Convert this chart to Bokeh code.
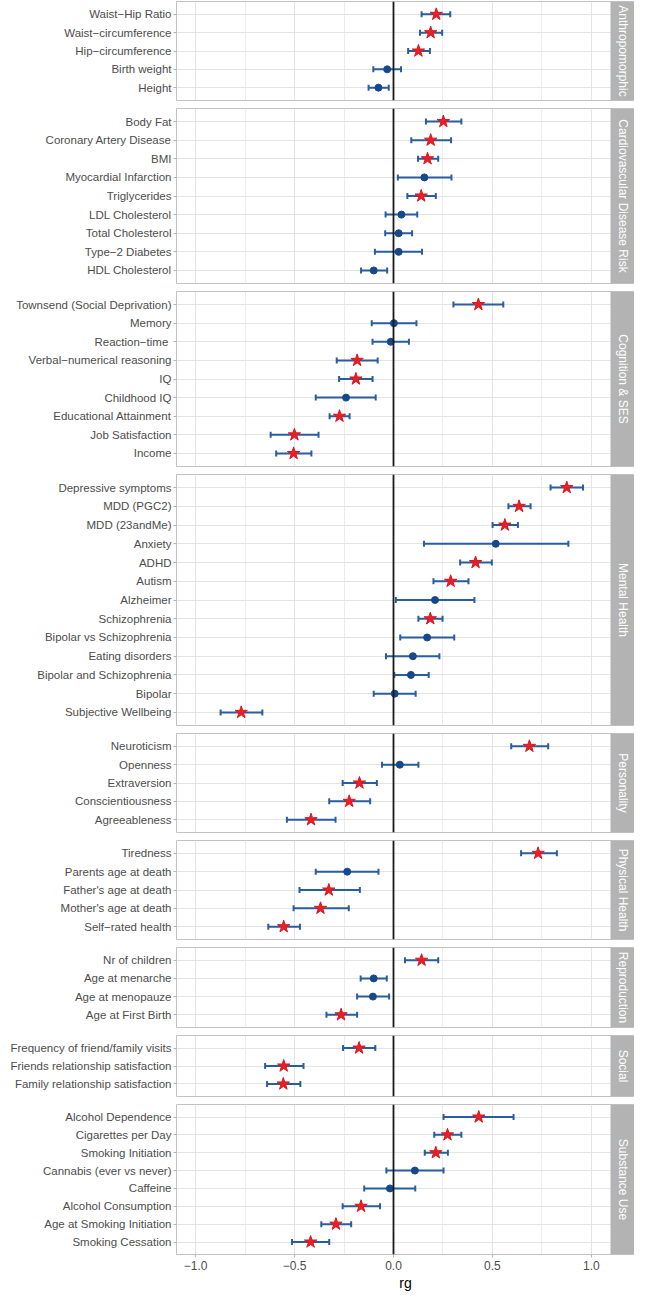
import math
from bokeh.plotting import figure
from bokeh.models import (Range1d, FactorRange, ColumnDataSource, Whisker, TeeHead,
                          Span, BoxAnnotation, Label, FixedTicker)
from bokeh.layouts import column
from bokeh.embed import file_html
from bokeh.resources import INLINE

# ---------------- data ----------------
panel_names = ["Anthropomorphic", "Cardiovascular Disease Risk", "Cognition & SES",
               "Mental Health", "Personality", "Physical Health", "Reproduction",
               "Social", "Substance Use"]

traits = [
    "Waist\u2212Hip Ratio", "Waist\u2212circumference", "Hip\u2212circumference", "Birth weight", "Height",
    "Body Fat", "Coronary Artery Disease", "BMI", "Myocardial Infarction", "Triglycerides",
    "LDL Cholesterol", "Total Cholesterol", "Type\u22122 Diabetes", "HDL Cholesterol",
    "Townsend (Social Deprivation)", "Memory", "Reaction\u2212time ", "Verbal\u2212numerical reasoning",
    "IQ", "Childhood IQ", "Educational Attainment", "Job Satisfaction", "Income",
    "Depressive symptoms", "MDD (PGC2)", "MDD (23andMe)", "Anxiety", "ADHD", "Autism",
    "Alzheimer", "Schizophrenia", "Bipolar vs Schizophrenia", "Eating disorders",
    "Bipolar and Schizophrenia", "Bipolar", "Subjective Wellbeing",
    "Neuroticism", "Openness", "Extraversion", "Conscientiousness", "Agreeableness",
    "Tiredness", "Parents age at death", "Father's age at death", "Mother's age at death",
    "Self\u2212rated health",
    "Nr of children", "Age at menarche", "Age at menopauze", "Age at First Birth",
    "Frequency of friend/family visits", "Friends relationship satisfaction",
    "Family relationship satisfaction",
    "Alcohol Dependence", "Cigarettes per Day", "Smoking Initiation", "Cannabis (ever vs never)",
    "Caffeine", "Alcohol Consumption", "Age at Smoking Initiation", "Smoking Cessation",
]

trait_panel = (["Anthropomorphic"] * 5 + ["Cardiovascular Disease Risk"] * 9 +
               ["Cognition & SES"] * 9 + ["Mental Health"] * 13 + ["Personality"] * 5 +
               ["Physical Health"] * 5 + ["Reproduction"] * 4 + ["Social"] * 3 +
               ["Substance Use"] * 8)

rg = [0.216, 0.188, 0.126, -0.032, -0.076,
      0.252, 0.188, 0.172, 0.156, 0.140, 0.040, 0.026, 0.026, -0.100,
      0.429, 0.002, -0.014, -0.184, -0.190, -0.240, -0.273, -0.501, -0.505,
      0.876, 0.635, 0.563, 0.517, 0.415, 0.289, 0.210, 0.186, 0.170, 0.098, 0.088, 0.006, -0.770,
      0.687, 0.032, -0.172, -0.224, -0.417,
      0.731, -0.234, -0.327, -0.369, -0.555,
      0.142, -0.100, -0.104, -0.265,
      -0.174, -0.555, -0.557,
      0.431, 0.273, 0.214, 0.108, -0.018, -0.164, -0.291, -0.419]

lo = [0.142, 0.134, 0.074, -0.102, -0.126,
      0.164, 0.090, 0.124, 0.022, 0.070, -0.040, -0.042, -0.094, -0.164,
      0.303, -0.110, -0.106, -0.287, -0.275, -0.393, -0.323, -0.621, -0.593,
      0.794, 0.581, 0.501, 0.154, 0.337, 0.202, 0.012, 0.126, 0.034, -0.038, 0.004, -0.100, -0.874,
      0.595, -0.058, -0.257, -0.325, -0.539,
      0.645, -0.393, -0.475, -0.505, -0.633,
      0.058, -0.166, -0.184, -0.339,
      -0.255, -0.649, -0.639,
      0.253, 0.206, 0.158, -0.036, -0.148, -0.257, -0.365, -0.513]

hi = [0.287, 0.246, 0.184, 0.038, -0.024,
      0.343, 0.291, 0.226, 0.293, 0.214, 0.120, 0.094, 0.144, -0.032,
      0.555, 0.116, 0.078, -0.080, -0.106, -0.090, -0.222, -0.379, -0.415,
      0.958, 0.693, 0.629, 0.884, 0.497, 0.379, 0.409, 0.248, 0.307, 0.232, 0.178, 0.112, -0.663,
      0.782, 0.126, -0.084, -0.118, -0.293,
      0.826, -0.076, -0.170, -0.226, -0.473,
      0.226, -0.034, -0.022, -0.184,
      -0.092, -0.455, -0.471,
      0.607, 0.343, 0.275, 0.253, 0.110, -0.068, -0.214, -0.325]

significant = [1, 1, 1, 0, 0,
               1, 1, 1, 0, 1, 0, 0, 0, 0,
               1, 0, 0, 1, 1, 0, 1, 1, 1,
               1, 1, 1, 0, 1, 1, 0, 1, 0, 0, 0, 0, 1,
               1, 0, 1, 1, 1,
               1, 0, 1, 1, 1,
               1, 0, 0, 1,
               1, 1, 1,
               1, 1, 1, 0, 0, 1, 1, 1]

x_ticks = [-1.0, -0.5, 0.0, 0.5, 1.0]
x_tick_labels = ["\u22121.0", "\u22120.5", "0.0", "0.5", "1.0"]
x_minor = [-0.75, -0.25, 0.25, 0.75]

# ---------------- style ----------------
FONT = "Liberation Sans"
U = 19.0            # px per row
GAP = 6             # px between panels
AXIS_H = 33         # px for bottom axis
W = 634
LEFT = 176
STRIP_W = 24
XL, XR = -1.097, 1.097
frame_w = W - LEFT
ppu = (frame_w - STRIP_W) / (XR - XL)
x_end = XR + STRIP_W / ppu
xr = Range1d(XL, x_end)

BAR = "#2a5d9f"
DOT = "#17498a"
STAR_FILL = "#ee1c24"
STAR_LINE = "#d41920"
GRID = "#e4e4e4"
BORDER = "#c2c2c2"
STRIP = "#b3b3b3"
TXT = "#4d4d4d"

figs = []
npan = len(panel_names)
for i, pname in enumerate(panel_names):
    idx = [k for k, pn in enumerate(trait_panel) if pn == pname]
    labs = [traits[k] for k in idx]
    n = len(labs)
    last = (i == npan - 1)
    frame_h = (n + 0.2) * U
    mbb = AXIS_H if last else 1 + GAP
    height = int(round(frame_h + 1 + mbb))

    yr = FactorRange(factors=list(reversed(labs)), range_padding=0.2,
                     range_padding_units="absolute")
    p = figure(x_range=xr, y_range=yr, width=W, height=height,
               output_backend="svg", toolbar_location=None,
               x_axis_location="below" if last else None,
               min_border_left=LEFT, min_border_right=0,
               min_border_top=1, min_border_bottom=mbb,
               background_fill_color="white", border_fill_color="white",
               outline_line_color=BORDER, outline_line_width=1)

    # grids
    p.xgrid.ticker = FixedTicker(ticks=x_ticks, minor_ticks=x_minor)
    p.xgrid.grid_line_color = GRID
    p.xgrid.grid_line_width = 1
    p.xgrid.minor_grid_line_color = "#ebebeb"
    p.xgrid.minor_grid_line_width = 1
    p.ygrid.grid_line_color = GRID
    p.ygrid.grid_line_width = 1.2

    # y axis
    p.yaxis.axis_line_color = None
    p.yaxis.major_tick_line_color = STRIP
    p.yaxis.major_tick_out = 3
    p.yaxis.major_tick_in = 0
    p.yaxis.minor_tick_line_color = None
    p.yaxis.major_label_standoff = 2
    p.yaxis.major_label_text_font = FONT
    p.yaxis.major_label_text_font_size = "11.5px"
    p.yaxis.major_label_text_color = TXT

    if last:
        p.xaxis.ticker = FixedTicker(ticks=x_ticks, minor_ticks=[])
        p.xaxis.major_label_overrides = {t: l for t, l in zip(x_ticks, x_tick_labels)}
        p.xaxis.axis_line_color = None
        p.xaxis.major_tick_line_color = STRIP
        p.xaxis.major_tick_out = 3
        p.xaxis.major_tick_in = 0
        p.xaxis.minor_tick_line_color = None
        p.xaxis.major_label_standoff = 3
        p.xaxis.major_label_text_font = FONT
        p.xaxis.major_label_text_font_size = "12px"
        p.xaxis.major_label_text_color = TXT
        p.xaxis.axis_label = "rg"
        p.xaxis.axis_label_text_font = FONT
        p.xaxis.axis_label_text_font_size = "14px"
        p.xaxis.axis_label_text_font_style = "normal"
        p.xaxis.axis_label_text_color = "#000000"
        p.xaxis.axis_label_standoff = 2

    # zero line
    p.add_layout(Span(location=0, dimension="height", line_color="#1a1a1a", line_width=1.8))

    src_all = ColumnDataSource(dict(trait=labs, rg=[rg[k] for k in idx],
                                    lo=[lo[k] for k in idx], hi=[hi[k] for k in idx]))
    p.add_layout(Whisker(source=src_all, base="trait", lower="lo", upper="hi",
                         dimension="width", line_color=BAR, line_width=2,
                         upper_head=TeeHead(size=6, line_color=BAR, line_width=2),
                         lower_head=TeeHead(size=6, line_color=BAR, line_width=2)))

    sig_idx = [k for k in idx if significant[k]]
    ns_idx = [k for k in idx if not significant[k]]
    src_ns = ColumnDataSource(dict(trait=[traits[k] for k in ns_idx], rg=[rg[k] for k in ns_idx]))
    src_s = ColumnDataSource(dict(trait=[traits[k] for k in sig_idx], rg=[rg[k] for k in sig_idx]))
    p.scatter(x="rg", y="trait", source=src_ns, marker="circle", size=7,
              fill_color=DOT, line_color=DOT)
    p.scatter(x="rg", y="trait", source=src_s, marker="star", size=13,
              fill_color=STAR_FILL, line_color=STAR_LINE, line_width=1)

    # facet strip
    p.add_layout(BoxAnnotation(left=XR, fill_color=STRIP, fill_alpha=1.0,
                               line_color=None, level="annotation"))
    p.add_layout(Label(x=(XR + x_end) / 2, y=n / 2, text=pname, angle=-math.pi / 2,
                       text_align="center", text_baseline="middle",
                       text_color="white", text_font=FONT, text_font_size="12px"))
    figs.append(p)

layout = column(*figs)
open("out.html", "w").write(file_html(layout, INLINE))
